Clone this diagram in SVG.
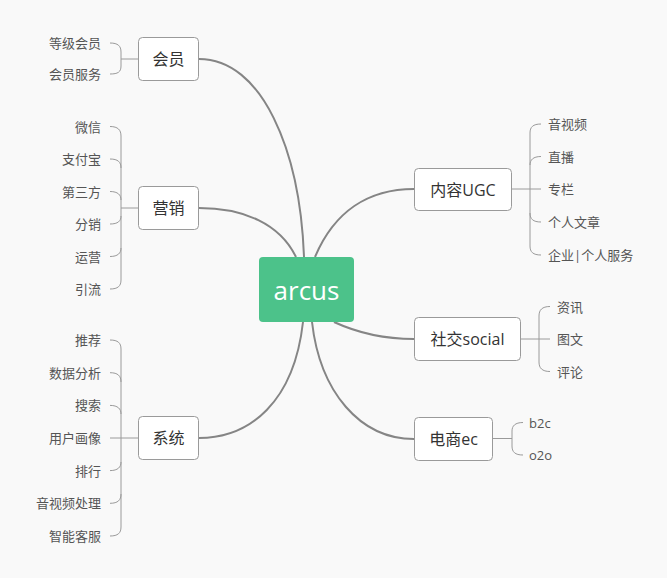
<svg xmlns="http://www.w3.org/2000/svg" width="667" height="578" viewBox="0 0 667 578">
<style>
.bg{fill:#f9f9f9}
.node rect{fill:#ffffff;stroke:#9a9a9a;stroke-width:1}
.node text{font-family:"Open Sans","Noto Sans CJK SC",sans-serif;font-size:16px;fill:#333;text-anchor:middle;dominant-baseline:central}
.root rect{fill:#4cc28a;stroke:none}
.root text{font-family:"Open Sans","Noto Sans CJK SC",sans-serif;font-size:26px;fill:#ffffff;text-anchor:middle;dominant-baseline:central}
.main{fill:none;stroke:#858585;stroke-width:2}
.br{fill:none;stroke:#9a9a9a;stroke-width:1}
.leaf{font-family:"Open Sans","Noto Sans CJK SC",sans-serif;font-size:13px;fill:#555;dominant-baseline:central}
.l{text-anchor:end}
</style>
<rect class="bg" x="0" y="0" width="667" height="578"/>
<g id="connectors">
<path class="main" d="M304,257 C300,150 262,59 199,59"/>
<path class="main" d="M296,257 C280,224 244,208 199,208"/>
<path class="main" d="M303,322 C294,402 250,438 199,438"/>
<path class="main" d="M315,257 C334,212 368,189 414,189"/>
<path class="main" d="M334,322 C360,334 385,339 414,339"/>
<path class="main" d="M312,322 C320,392 360,439 414,439"/>
<!-- 会员 brace -->
<path class="br" d="M138,59 H121 M110,43 C118,43 121,46 121,52 V66 C121,72 118,74 110,74"/>
<!-- 营销 brace -->
<path class="br" d="M138,208 H121 M110,126.5 C118,126.5 121,130 121,136 V280 C121,286 118,289 110,289 M110,159 C118,159 121,162 121,168 M110,191.5 C118,191.5 121,195 121,200 M110,224 C118,224 121,221 121,216 M110,256.5 C118,256.5 121,253 121,248"/>
<!-- 系统 brace -->
<path class="br" d="M138,438 H110 M110,340 C118,340 121,343 121,349 V527 C121,533 118,536 110,536 M110,372.7 C118,372.7 121,376 121,382 M110,405.4 C118,405.4 121,409 121,414 M110,470.6 C118,470.6 121,467 121,462 M110,503.3 C118,503.3 121,500 121,494"/>
<!-- 内容UGC brace -->
<path class="br" d="M511,189 H541 M541,124 C533,124 530,127 530,133 V246 C530,252 533,255 541,255 M541,156.5 C533,156.5 530,160 530,165 M541,222 C533,222 530,219 530,213"/>
<!-- 社交social brace -->
<path class="br" d="M520,339 H550 M550,306.5 C542,306.5 539,310 539,316 V362 C539,368 542,371.5 550,371.5"/>
<!-- 电商ec brace -->
<path class="br" d="M492,438.5 H512 M523,422.5 C515,422.5 512,426 512,431 V446 C512,452 515,455 523,455"/>
</g>
<g id="arcus" class="root"><rect x="259" y="257" width="95" height="65" rx="4"/><text x="306.5" y="290">arcus</text></g>
<g id="huiyuan" class="node"><rect x="138.5" y="37.5" width="60" height="43" rx="4"/><text x="168.5" y="59">会员</text></g>
<g id="yingxiao" class="node"><rect x="138.5" y="186.5" width="60" height="43" rx="4"/><text x="168.5" y="208">营销</text></g>
<g id="xitong" class="node"><rect x="138.5" y="416.5" width="60" height="43" rx="4"/><text x="168.5" y="438">系统</text></g>
<g id="neirong" class="node"><rect x="414.5" y="168.5" width="97" height="42" rx="4"/><text x="463" y="189.5">内容UGC</text></g>
<g id="shejiao" class="node"><rect x="414.5" y="317.5" width="106" height="43" rx="4"/><text x="467.5" y="339">社交social</text></g>
<g id="dianshang" class="node"><rect x="414.5" y="417.5" width="78" height="43" rx="4"/><text x="453.5" y="439">电商ec</text></g>
<g id="leaves-huiyuan">
<text class="leaf l" x="101" y="43">等级会员</text>
<text class="leaf l" x="101" y="74">会员服务</text>
</g>
<g id="leaves-yingxiao">
<text class="leaf l" x="101" y="126.5">微信</text>
<text class="leaf l" x="101" y="159">支付宝</text>
<text class="leaf l" x="101" y="191.5">第三方</text>
<text class="leaf l" x="101" y="224">分销</text>
<text class="leaf l" x="101" y="256.5">运营</text>
<text class="leaf l" x="101" y="289">引流</text>
</g>
<g id="leaves-xitong">
<text class="leaf l" x="101" y="340">推荐</text>
<text class="leaf l" x="101" y="372.7">数据分析</text>
<text class="leaf l" x="101" y="405.4">搜索</text>
<text class="leaf l" x="101" y="438">用户画像</text>
<text class="leaf l" x="101" y="470.6">排行</text>
<text class="leaf l" x="101" y="503.3">音视频处理</text>
<text class="leaf l" x="101" y="536">智能客服</text>
</g>
<g id="leaves-neirong">
<text class="leaf" x="548" y="124">音视频</text>
<text class="leaf" x="548" y="156.5">直播</text>
<text class="leaf" x="548" y="189">专栏</text>
<text class="leaf" x="548" y="222">个人文章</text>
<text class="leaf" x="548" y="255">企业|个人服务</text>
</g>
<g id="leaves-shejiao">
<text class="leaf" x="557" y="306.5">资讯</text>
<text class="leaf" x="557" y="339">图文</text>
<text class="leaf" x="557" y="371.5">评论</text>
</g>
<g id="leaves-dianshang">
<text class="leaf" x="529" y="422.5">b2c</text>
<text class="leaf" x="529" y="455">o2o</text>
</g>
</svg>
